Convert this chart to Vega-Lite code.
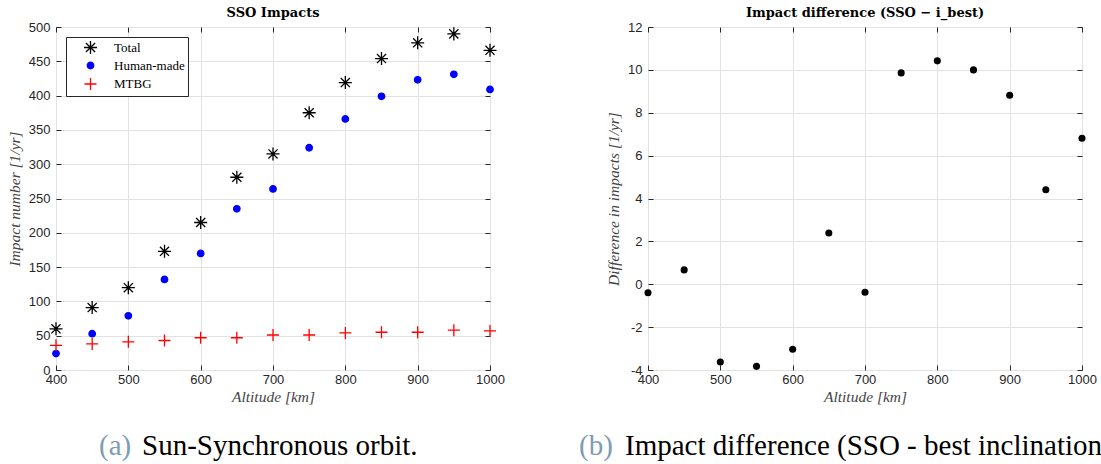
{
  "$schema": "https://vega.github.io/schema/vega-lite/v6.json",
  "background": "white",
  "padding": {"left": 6, "top": 6, "right": 0, "bottom": 0},
  "datasets": {
    "sso": [
      {"alt": 400, "series": "Total", "value": 60},
      {"alt": 450, "series": "Total", "value": 91},
      {"alt": 500, "series": "Total", "value": 120},
      {"alt": 550, "series": "Total", "value": 173},
      {"alt": 600, "series": "Total", "value": 215},
      {"alt": 650, "series": "Total", "value": 281},
      {"alt": 700, "series": "Total", "value": 315},
      {"alt": 750, "series": "Total", "value": 375},
      {"alt": 800, "series": "Total", "value": 419},
      {"alt": 850, "series": "Total", "value": 454},
      {"alt": 900, "series": "Total", "value": 477},
      {"alt": 950, "series": "Total", "value": 490},
      {"alt": 1000, "series": "Total", "value": 466},
      {"alt": 400, "series": "Human-made", "value": 24},
      {"alt": 450, "series": "Human-made", "value": 53},
      {"alt": 500, "series": "Human-made", "value": 79},
      {"alt": 550, "series": "Human-made", "value": 132},
      {"alt": 600, "series": "Human-made", "value": 170},
      {"alt": 650, "series": "Human-made", "value": 235},
      {"alt": 700, "series": "Human-made", "value": 264},
      {"alt": 750, "series": "Human-made", "value": 324},
      {"alt": 800, "series": "Human-made", "value": 366},
      {"alt": 850, "series": "Human-made", "value": 399},
      {"alt": 900, "series": "Human-made", "value": 423},
      {"alt": 950, "series": "Human-made", "value": 431},
      {"alt": 1000, "series": "Human-made", "value": 409},
      {"alt": 400, "series": "MTBG", "value": 36},
      {"alt": 450, "series": "MTBG", "value": 38},
      {"alt": 500, "series": "MTBG", "value": 41},
      {"alt": 550, "series": "MTBG", "value": 43},
      {"alt": 600, "series": "MTBG", "value": 47},
      {"alt": 650, "series": "MTBG", "value": 47},
      {"alt": 700, "series": "MTBG", "value": 51},
      {"alt": 750, "series": "MTBG", "value": 51},
      {"alt": 800, "series": "MTBG", "value": 54},
      {"alt": 850, "series": "MTBG", "value": 55},
      {"alt": 900, "series": "MTBG", "value": 55},
      {"alt": 950, "series": "MTBG", "value": 58},
      {"alt": 1000, "series": "MTBG", "value": 57}
    ],
    "diff": [
      {"alt": 400, "diff": -0.4},
      {"alt": 450, "diff": 0.67},
      {"alt": 500, "diff": -3.63},
      {"alt": 550, "diff": -3.83},
      {"alt": 600, "diff": -3.03},
      {"alt": 650, "diff": 2.39},
      {"alt": 700, "diff": -0.37},
      {"alt": 750, "diff": 9.86},
      {"alt": 800, "diff": 10.42},
      {"alt": 850, "diff": 10.0},
      {"alt": 900, "diff": 8.82},
      {"alt": 950, "diff": 4.41},
      {"alt": 1000, "diff": 6.81}
    ],
    "captions": [
      {"panel": "a", "part": "label", "text": "(a)"},
      {"panel": "a", "part": "body", "text": "Sun-Synchronous orbit."},
      {"panel": "b", "part": "label", "text": "(b)"},
      {"panel": "b", "part": "body", "text": "Impact difference (SSO - best inclination"}
    ]
  },
  "config": {
    "font": "Liberation Sans",
    "view": {"stroke": "#262626", "strokeWidth": 1},
    "axis": {
      "labelFont": "Liberation Sans",
      "labelFontSize": 13,
      "labelColor": "#262626",
      "labelFlush": false,
      "labelOverlap": false,
      "titleFont": "Liberation Serif",
      "titleFontStyle": "italic",
      "titleFontWeight": "normal",
      "titleFontSize": 15.5,
      "titleColor": "#444444",
      "gridColor": "#e2e2e2",
      "gridWidth": 1,
      "domain": false,
      "tickColor": "#262626",
      "tickSize": -5,
      "labelPadding": 11
    },
    "axisY": {"titlePadding": 6},
    "axisX": {"titlePadding": 3, "labelPadding": 8},
    "title": {"font": "DejaVu Serif", "fontSize": 13, "fontWeight": "bold", "color": "#000000", "offset": 1},
    "legend": {
      "orient": "top-left",
      "offset": 10,
      "strokeColor": "#262626",
      "fillColor": "white",
      "padding": 3,
      "labelFont": "Liberation Serif",
      "labelFontSize": 13,
      "labelColor": "#000000",
      "rowPadding": 2,
      "symbolOffset": 14,
      "labelOffset": 16,
      "symbolStrokeWidth": 1.3
    }
  },
  "hconcat": [
    {
      "vconcat": [
        {
          "width": 434,
          "height": 343,
          "title": "SSO Impacts",
          "data": {"name": "sso"},
          "layer": [
            {
              "mark": {"type": "point", "strokeWidth": 1.3, "opacity": 1},
              "encoding": {
                "x": {"field": "alt", "type": "quantitative", "scale": {"domain": [400, 1000], "nice": false, "zero": false},
                      "axis": {"values": [400, 500, 600, 700, 800, 900, 1000], "format": "d", "title": "Altitude [km]"}},
                "y": {"field": "value", "type": "quantitative", "scale": {"domain": [0, 500], "nice": false},
                      "axis": {"values": [0, 50, 100, 150, 200, 250, 300, 350, 400, 450, 500], "title": "Impact number [1/yr]"}},
                "shape": {"field": "series", "type": "nominal",
                          "scale": {"type": "ordinal", "domain": ["Total", "Human-made", "MTBG"], "range": ["M-1,0H1M0,-1V1M-0.7,-0.7L0.7,0.7M-0.7,0.7L0.7,-0.7", "circle", "M-1,0H1M0,-1V1"]},
                          "legend": {"title": null}},
                "stroke": {"field": "series", "type": "nominal",
                           "scale": {"type": "ordinal", "domain": ["Total", "Human-made", "MTBG"], "range": ["#000000", "#0000ff", "#ff0000"]},
                           "legend": {"title": null}},
                "fill": {"field": "series", "type": "nominal",
                         "scale": {"type": "ordinal", "domain": ["Total", "Human-made", "MTBG"], "range": ["transparent", "#0000ff", "transparent"]},
                         "legend": {"title": null}},
                "size": {"field": "series", "type": "nominal",
                         "scale": {"type": "ordinal", "domain": ["Total", "Human-made", "MTBG"], "range": [170, 42, 144]},
                         "legend": {"title": null}}
              }
            },
            {
              "mark": {"type": "point", "opacity": 0},
              "encoding": {
                "x": {"field": "alt", "type": "quantitative", "scale": {"domain": [400, 1000], "nice": false, "zero": false},
                      "axis": {"orient": "top", "values": [400, 500, 600, 700, 800, 900, 1000], "labels": false, "grid": false, "title": null}},
                "y": {"field": "value", "type": "quantitative", "scale": {"domain": [0, 500], "nice": false},
                      "axis": {"orient": "right", "values": [0, 50, 100, 150, 200, 250, 300, 350, 400, 450, 500], "labels": false, "grid": false, "title": null}}
              }
            }
          ],
          "resolve": {"axis": {"x": "independent", "y": "independent"}}
        },
        {
          "width": 434,
          "height": 30,
          "view": {"stroke": null},
          "data": {"name": "captions"},
          "transform": [{"filter": "datum.panel == 'a'"}],
          "layer": [
            {
              "transform": [{"filter": "datum.part == 'label'"}],
              "mark": {"type": "text", "font": "Liberation Serif", "fontSize": 29, "align": "left", "baseline": "alphabetic", "color": "#7d9cb5", "dx": -174},
              "encoding": {"text": {"field": "text"}}
            },
            {
              "transform": [{"filter": "datum.part == 'body'"}],
              "mark": {"type": "text", "font": "Liberation Serif", "fontSize": 29, "align": "left", "baseline": "alphabetic", "color": "#000000", "dx": -131},
              "encoding": {"text": {"field": "text"}}
            }
          ]
        }
      ],
      "spacing": 70,
      "bounds": "flush"
    },
    {
      "vconcat": [
        {
          "width": 434,
          "height": 343,
          "title": "Impact difference (SSO − i_best)",
          "data": {"name": "diff"},
          "layer": [
            {
              "mark": {"type": "point", "filled": true, "color": "#000000", "size": 50, "opacity": 1},
              "encoding": {
                "x": {"field": "alt", "type": "quantitative", "scale": {"domain": [400, 1000], "nice": false, "zero": false},
                      "axis": {"values": [400, 500, 600, 700, 800, 900, 1000], "format": "d", "title": "Altitude [km]"}},
                "y": {"field": "diff", "type": "quantitative", "scale": {"domain": [-4, 12], "nice": false, "zero": false},
                      "axis": {"values": [-4, -2, 0, 2, 4, 6, 8, 10, 12], "labelExpr": "'' + datum.value", "title": "Difference in impacts [1/yr]"}}
              }
            },
            {
              "mark": {"type": "point", "opacity": 0},
              "encoding": {
                "x": {"field": "alt", "type": "quantitative", "scale": {"domain": [400, 1000], "nice": false, "zero": false},
                      "axis": {"orient": "top", "values": [400, 500, 600, 700, 800, 900, 1000], "labels": false, "grid": false, "title": null}},
                "y": {"field": "diff", "type": "quantitative", "scale": {"domain": [-4, 12], "nice": false, "zero": false},
                      "axis": {"orient": "right", "values": [-4, -2, 0, 2, 4, 6, 8, 10, 12], "labels": false, "grid": false, "title": null}}
              }
            }
          ],
          "resolve": {"axis": {"x": "independent", "y": "independent"}}
        },
        {
          "width": 434,
          "height": 30,
          "view": {"stroke": null},
          "data": {"name": "captions"},
          "transform": [{"filter": "datum.panel == 'b'"}],
          "layer": [
            {
              "transform": [{"filter": "datum.part == 'label'"}],
              "mark": {"type": "text", "font": "Liberation Serif", "fontSize": 29, "align": "left", "baseline": "alphabetic", "color": "#7d9cb5", "dx": -286},
              "encoding": {"text": {"field": "text"}}
            },
            {
              "transform": [{"filter": "datum.part == 'body'"}],
              "mark": {"type": "text", "font": "Liberation Serif", "fontSize": 29, "align": "left", "baseline": "alphabetic", "color": "#000000", "dx": -240},
              "encoding": {"text": {"field": "text"}}
            }
          ]
        }
      ],
      "spacing": 70,
      "bounds": "flush"
    }
  ],
  "spacing": 74
}
